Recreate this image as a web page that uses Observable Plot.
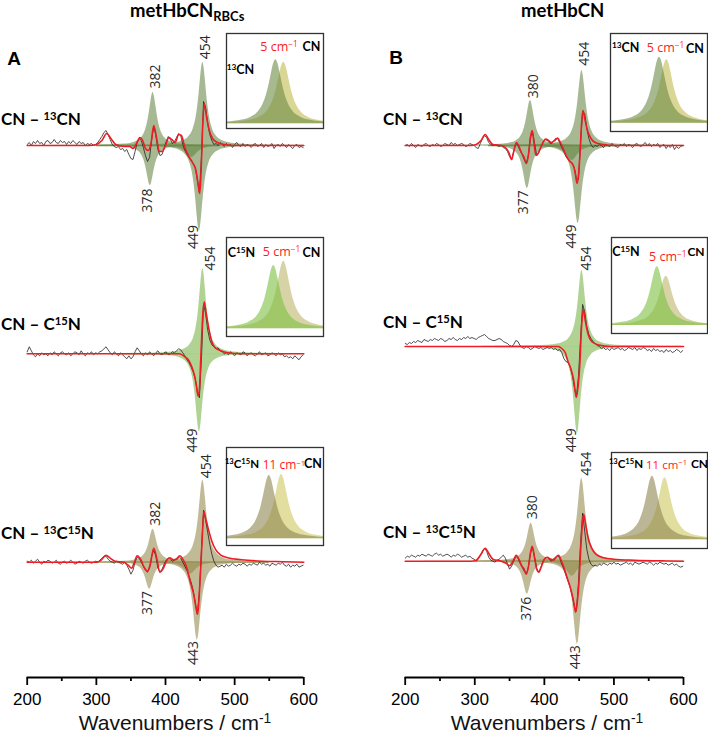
<!DOCTYPE html>
<html><head><meta charset="utf-8">
<script src="https://cdn.jsdelivr.net/npm/d3@7"></script>
<script src="https://cdn.jsdelivr.net/npm/@observablehq/plot@0.6"></script>
<style>
html,body{margin:0;padding:0;background:#fff;}
#fig{position:relative;width:708px;height:734px;overflow:hidden;background:#fff;}
.pl{position:absolute;top:0;}
.lbl{position:absolute;white-space:nowrap;line-height:1;}
.sup{font-size:0.66em;position:relative;top:-0.48em;}
.sub{font-size:0.7em;position:relative;top:0.32em;}
</style></head><body><div id="fig"></div><script>
// ---------------- DATA ----------------
const panels = ["A", "B"];
const panelTitles = [[["metHbCN",""],["RBCs","sub"]], [["metHbCN",""]]];
const rowLabels = [
  [["CN – ",""],["13","sup"],["CN",""]],
  [["CN – C",""],["15","sup"],["N",""]],
  [["CN – ",""],["13","sup"],["C",""],["15","sup"],["N",""]]
];
const isoLabels = [
  [["13","sup"],["CN",""]],
  [["C",""],["15","sup"],["N",""]],
  [["13","sup"],["C",""],["15","sup"],["N",""]]
];
const shiftValues = ["5", "5", "11"];
const xTicks = [200, 300, 400, 500, 600];
const xMinorTicks = [250, 350, 450, 550];
const xDomain = [200, 600];

// vertical offset of each stacked difference spectrum (a.u.)
const traceOffset = { A: [5.32, 3.237, 1.153], B: [5.32, 3.31, 1.163] };

// fitted bands: [center cm-1, amplitude a.u., half width cm-1]
const bandsA = [
  [[382,0.53,7],[378,-0.40,7],[454,0.83,7],[449,-0.85,7],[438,-0.12,10]],
  [[454,0.85,6.5],[449,-0.78,6.5]],
  [[382,0.33,7],[377,-0.27,7],[454,0.82,7],[446,-0.78,7],[436,-0.12,10]]
];
const bandsB = [
  [[380,0.45,7],[375.5,-0.43,7],[454,0.75,7],[448.5,-0.78,7],[440,-0.15,10]],
  [[454,0.76,6.5],[447.5,-0.87,6.5]],
  [[381,0.38,7],[375.5,-0.33,7],[453.7,0.83,7],[447.5,-0.83,7],[440,-0.15,10]]
];
// Lorentzian band profile, tabulated: [distance in half widths, relative height]
const bandProfile = [[0,1],[0.25,0.941],[0.5,0.8],[0.75,0.64],[1,0.5],[1.5,0.308],[2,0.2],[3,0.1],[4,0.0588],[6,0.027],[9,0.0122],[14,0.0051],[22,0.0021]];
// zero-line segment under the band region of each trace
const baseSpanA = [[300,480],[330,560],[300,550]];
const baseSpanB = [[320,490],[330,560],[300,560]];

// experimental difference traces (hundredths a.u.), segments [start cm-1, values every 3 cm-1]
const blackStep = 3;
const blackA = [
  [[200,[1,3,0,4,2,5,2,3,0,4,5,2,3,6,3,2,5,3,4,1,4,2,5,3,1,4,2,3,0,2,1,2,0]],
   [299,[1,3,6,9,13,15,11,6,1,-1,-2,-1,-4,-3,-6,-4,-9,-13,-14,-6,3,7,5,-2,-10,-16,-12,6,19,10,-4,-10,-9,-3,4,9,6,2,4,8,12,10,1,-5,-9,-12,-15,-18,-22,-34,-47,-12,44,38,22,11,5,1]],
   [473,[2,0,3,1,-1,2,0,1,-2,1,3,0,-1,2,-1,1,0,-2,1,2,-1,0,2,-2,1,-1,0,2,-3,0,1,-1,2,0,-2,1,-1,-3,0,1,-2,-1,-2]]],
  [[200,[2,7,3,-1,-3,0,-2,1,-1,0,-2,1,-1,2,0,-2,1,2,0,-1,1,-2,0,2,1,-1,3,0,-2,1,0,2,-1]],
   [299,[1,0,2,3,5,7,4,1,-1,2,0,-2,1,-1,-3,-5,-2,-5,-3,2,6,3,0,-2,1,-1,2,0,-2,1,3,0,-1,1,2,-1,0,2,1,3,5,4,1,-2,-6,-9,-13,-18,-25,-38,-44,-5,50,40,24,14,9,7,5,6,3,2,0]],
   [488,[1,-1,2,0,-2,1,0,-1,2,1,-2,0,1,-1,-2,0,2,-1,0,1,-2,-1,1,0,-2,1,-1,0,-3,-2,-4,-3,-5,-2,-4,-6,-3,-1]]],
  [[200,[1,0,2,-1,1,3,0,-2,1,0,2,1,-1,0,2,-1,-2,0,1,-1,0,2,0,-2,-1,1,0,-1,1,2,0,-1,0]],
   [299,[1,0,2,4,6,6,3,1,0,-1,1,0,-1,-2,0,-3,-7,-12,-8,0,5,4,0,-4,-8,-10,-6,6,12,6,-6,-10,-7,-2,2,4,3,1,2,4,6,4,0,-4,-8,-14,-20,-28,-40,-52,-30,12,52,42,30,18,8,1,-3,-5,-4]],
   [482,[-3,-5,-2,-4,-3,-1,-3,-4,-2,-3,-1,-2,-4,-2,-3,-1,-2,-3,0,-2,-1,-3,-2,-4,-1,-2,-3,-1,-2,0,-3,-4,-2,-5,-3,-4,-2,-5,-4,-3]]]
];
const blackB = [
  [[200,[0,1,-1,2,0,-2,1,0,-1,1,2,0,-1,1,0,2,1,-1,0,2,1,0,3,1,2,0,1,2,1,-1,0,2,1]],
   [299,[0,-2,-3,2,7,10,8,3,1,0,1,0,-1,0,-2,-3,-6,-11,-14,-6,2,0,-5,-9,-14,-18,-10,8,14,2,-10,-7,-2,3,6,5,3,2,4,7,7,3,-2,-6,-11,-14,-16,-18,-22,-33,-34,2,34,32,17,7,1,-2,0,-1,1]],
   [482,[0,-2,1,0,-1,2,0,-1,-2,1,0,2,-1,1,0,-2,1,2,0,-1,1,3,0,2,-1,1,0,2,-2,0,1,-3,0,-2,1,-4,-1,-3,-1,0]]],
  [[200,[3,2,4,3,5,4,6,5,4,7,6,5,7,6,8,7,6,8,7,5,6,8,7,9,7,6,8,7,9,8,10,8,9]],
   [299,[8,7,9,10,11,12,10,8,7,6,6,7,8,7,5,4,3,1,0,2,6,5,1,-1,-2,0,-1,-3,-2,0,-1,-2,-1,-3,-2,-1,-2,-1,-3,-2,-4,-3,-6,-12,-15,-16,-20,-28,-40,-50,-30,8,42,35,20,12,8,5,3,1]],
   [479,[0,-2,-1,-3,-2,-4,-1,-3,-2,-1,-3,-2,-4,-3,-1,-2,-3,-1,-4,-2,-3,-1,-2,-4,-3,-5,-2,-4,-3,-5,-4,-6,-3,-5,-4,-6,-5,-3,-4,-6,-4]]],
  [[200,[3,5,4,6,5,4,6,5,7,6,5,7,6,5,7,8,6,7,5,6,7,6,4,6,5,7,6,4,5,6,4,5,3]],
   [299,[2,0,2,6,10,13,10,4,1,0,-1,1,2,4,6,3,-3,-8,-5,0,5,3,-2,-6,-10,-13,-6,8,14,4,-7,-11,-6,0,3,4,2,0,2,4,6,3,-3,-8,-14,-20,-26,-34,-45,-50,-22,18,48,30,12,2,-3,-5,-4]],
   [476,[-5,-3,-4,-2,-3,-4,-2,-3,-1,-3,-2,-4,-3,-2,-1,-3,-2,-4,-1,-2,-3,-2,-1,-2,-3,-1,-2,-4,-2,-3,-1,-2,-3,-2,-4,-3,-2,-4,-3,-5,-6,-5]]]
];

// fitted sum curves: [cm-1, a.u.]
const redA = [
  [[200,0],[290,0],[300,0.01],[308,0.05],[315,0.12],[321,0.07],[328,0.01],[340,-0.01],[348,-0.01],[353,-0.03],[358,0.02],[363,0.08],[367,0.05],[371,-0.03],[375,-0.05],[379,0.02],[383,0.20],[387,0.08],[391,-0.06],[395,-0.06],[400,0.0],[405,0.08],[409,0.06],[414,0.03],[419,0.11],[423,0.10],[428,-0.02],[433,-0.10],[439,-0.17],[444,-0.25],[447,-0.38],[449.5,-0.48],[451.5,-0.25],[453.5,0.15],[456,0.42],[459,0.30],[463,0.16],[468,0.07],[475,0.03],[485,0.01],[500,0],[600,0]],
  [[200,0],[420,0],[428,-0.03],[433,-0.06],[438,-0.13],[442,-0.22],[445,-0.33],[447,-0.42],[449,-0.36],[451,-0.05],[454,0.40],[456,0.52],[459,0.40],[463,0.24],[467,0.12],[472,0.06],[480,0.03],[490,0.01],[510,0],[600,0]],
  [[200,0],[300,0],[307,0.02],[314,0.07],[320,0.04],[327,0.01],[340,0],[346,-0.03],[351,-0.06],[355,0.0],[359,0.065],[364,0.03],[369,-0.05],[374,-0.09],[378,-0.02],[383,0.14],[387,0.05],[392,-0.10],[397,-0.06],[402,0.02],[406,0.045],[411,0.025],[416,0.03],[421,0.065],[425,0.03],[430,-0.04],[436,-0.20],[441,-0.33],[444,-0.45],[446.5,-0.52],[449,-0.30],[451,-0.05],[453.5,0.30],[455.5,0.51],[458,0.44],[462,0.33],[467,0.21],[473,0.12],[480,0.07],[490,0.045],[510,0.025],[540,0.01],[570,0.005],[600,0]]
];
const redB = [
  [[200,0],[295,0],[302,0.01],[309,0.05],[315,0.11],[320,0.06],[326,0.01],[338,0],[344,-0.02],[349,-0.07],[353,-0.14],[356,-0.06],[360,0.03],[363,0.0],[367,-0.07],[371,-0.12],[374,-0.18],[377,-0.10],[380,0.08],[382.5,0.15],[385,0.03],[388,-0.10],[391,-0.08],[396,0.0],[402,0.065],[406,0.05],[410,0.03],[415,0.05],[419,0.075],[423,0.03],[427,-0.03],[432,-0.11],[437,-0.16],[441,-0.19],[444,-0.26],[447,-0.38],[449,-0.30],[451.5,-0.05],[453.5,0.22],[455.5,0.35],[458,0.27],[462,0.15],[467,0.07],[473,0.03],[485,0.01],[500,0],[600,0]],
  [[200,0],[420,0],[425,-0.02],[430,-0.06],[434,-0.15],[438,-0.22],[442,-0.33],[446,-0.51],[448.5,-0.40],[451,-0.18],[453.5,0.20],[456,0.37],[459,0.25],[463,0.12],[468,0.05],[478,0.015],[495,0],[600,0]],
  [[200,0],[295,0],[302,0.01],[309,0.07],[315,0.13],[320,0.08],[326,0.02],[338,0],[345,-0.02],[350,-0.045],[355,0.0],[359.5,0.06],[364,0.01],[367,-0.04],[371,-0.08],[374,-0.13],[377,-0.06],[380,0.08],[382.5,0.15],[386,0.03],[389,-0.08],[392,-0.11],[396,-0.05],[400,0.02],[404,0.04],[409,0.02],[413,0.01],[417,0.04],[420.5,0.06],[424,0.01],[428,-0.06],[433,-0.17],[438,-0.28],[442,-0.40],[445,-0.51],[447.5,-0.40],[450,-0.18],[452.5,0.15],[455,0.40],[456.5,0.47],[459,0.38],[463,0.23],[468,0.13],[474,0.07],[485,0.035],[500,0.02],[530,0.01],[570,0.003],[600,0]]
];

// peak labels: [row, text, cm-1, a.u. relative to trace zero]
const peakLabelsA = [
  [0,"382",385.9,0.69],[0,"454",457.3,0.983],[0,"378",373.5,-0.55],[0,"449",440.9,-0.915],
  [1,"454",465,0.953],[1,"449",438.5,-0.867],
  [2,"382",385.5,0.484],[2,"454",459.2,0.959],[2,"377",373.5,-0.408],[2,"443",440,-0.908]
];
const peakLabelsB = [
  [0,"380",384.2,0.592],[0,"454",458,0.917],[0,"377",370.7,-0.567],[0,"449",438.8,-0.91],
  [1,"454",460.9,0.88],[1,"449",438.8,-0.937],
  [2,"380",383.2,0.54],[2,"454",460.9,0.974],[2,"376",374.6,-0.476],[2,"443",444.1,-0.96]
];

// insets: isotope band and CN band [center (cm-1 rel.), apex level], baseline level
const insetDomain = [-36, 25];
const insetHalfWidth = 5.3;
const insetPeaksA = [[[-5,0.723],[0,0.698]], [[-6.3,0.717],[0,0.761]], [[-9.1,0.714],[-1.4,0.724]]];
const insetBaseA = [0.049, 0.078, 0.068];
const insetPeaksB = [[[-5.2,0.758],[-0.6,0.731]], [[-6.9,0.695],[-1.2,0.597]], [[-10,0.753],[-2,0.736]]];
const insetBaseB = [0.085, 0.083, 0.091];

// ---------------- LAYOUT / STYLE ----------------
const layout = {
  A: { left: 0, margins: [26.7, 50.7], letter: [14, 58], title: [130, 10], axisTitle: [175, 722],
       rowLabel: [[1,118],[1,323],[1,532]],
       insetBox: [[226,33,97,95],[226,237,97,99],[226,447,97,98]],
       insetText: [[[240.5,70],[279,47],[311.5,47]], [[241.5,253],[281.5,252],[311.5,253]], [[242,464],[284,465.3],[313,464]]],
       insetSize: [["12.5px","12.5px","12.5px"],["12.5px","12.5px","12.5px"],["11.5px","12px","12.5px"]] },
  B: { left: 354, margins: [50.7, 25], letter: [396, 57], title: [521, 10], axisTitle: [547, 722],
       rowLabel: [[383,118],[383,321],[383,531]],
       insetBox: [[610,33,97,98],[611,237,96,96],[611,452,96,96]],
       insetText: [[[625.7,48],[665.5,48],[695,49]], [[626,252],[667.8,257],[696,252]], [[626,463.5],[666.5,464.5],[699.5,464]]],
       insetSize: [["12.5px","12.5px","12.5px"],["12.5px","12.5px","12px"],["11.5px","11.5px","12px"]] }
};
const bandColor = ["#5f7f3a", "#6fae3c", "#8c8440"];
const baseLineColor = ["#6d8c45", "#a9cf8a", "#9a9255"];
const insetColors = [["#6d8a45","#bfbb50"], ["#7cbf3f","#bdb56a"], ["#8d8650","#cfc860"]];

const fig = document.getElementById("fig");
const fullProfile = [...bandProfile.slice(1).map(([u,f]) => [-u,f]).reverse(), ...bandProfile];

function addLabel(parts, x, y, anchor, css) {
  const d = document.createElement("div");
  d.className = "lbl";
  d.style.left = x + "px"; d.style.top = y + "px";
  d.style.transform = anchor === "start" ? "translate(0,-50%)" : "translate(-50%,-50%)";
  Object.assign(d.style, css);
  for (const [t, k] of parts) {
    const s = document.createElement("span");
    s.textContent = t; if (k) s.className = k;
    d.appendChild(s);
  }
  fig.appendChild(d);
}

panels.forEach((P, pi) => {
  const L = layout[P];
  const offs = traceOffset[P];
  const bands = P === "A" ? bandsA : bandsB;
  const blacks = P === "A" ? blackA : blackB;
  const reds = P === "A" ? redA : redB;
  const labs = P === "A" ? peakLabelsA : peakLabelsB;
  const spans = P === "A" ? baseSpanA : baseSpanB;

  const marks = [];
  bands.forEach((rowBands, r) => {
    const pts = [];
    rowBands.forEach(([c, a, w], k) => {
      fullProfile.forEach(([u, f]) => pts.push({k, x: c + u * w, b: offs[r], y: offs[r] + a * f}));
    });
    marks.push(Plot.areaY(pts, {x: "x", y1: "b", y2: "y", z: "k", fill: bandColor[r], fillOpacity: 0.55, curve: "monotone-x", clip: true}));
  });
  marks.push(Plot.ruleY(spans.map((s, r) => ({y: offs[r], x1: s[0], x2: s[1], r})),
    {y: "y", x1: "x1", x2: "x2", stroke: d => baseLineColor[d.r], strokeWidth: 1.3}));
  const bpts = [];
  blacks.forEach((segs, r) => segs.forEach(([start, vals]) =>
    vals.forEach((v, i) => bpts.push({r, x: start + i * blackStep, y: offs[r] + v / 100}))));
  marks.push(Plot.line(bpts, {x: "x", y: "y", z: "r", stroke: "#222", strokeWidth: 0.8}));
  const rpts = [];
  reds.forEach((arr, r) => arr.forEach(([x, v]) => rpts.push({r, x, y: offs[r] + v})));
  marks.push(Plot.line(rpts, {x: "x", y: "y", z: "r", stroke: "#ee1c24", strokeWidth: 1.6, curve: "monotone-x"}));
  marks.push(Plot.text(labs.map(([r, t, x, v]) => ({t, x, y: offs[r] + v})),
    {x: "x", y: "y", text: "t", rotate: -90, fontSize: 14, fill: "#2a2a2a", fontFamily: "Open Sans, sans-serif"}));
  marks.push(Plot.ruleY([0], {stroke: "#000", strokeWidth: 1.8}));
  marks.push(Plot.axisX({ticks: xTicks, tickSize: 8, tickPadding: 7, fontSize: 17, label: null, strokeWidth: 1.8, tickFormat: d => String(d)}));
  marks.push(Plot.axisX({ticks: xMinorTicks, tickSize: 4, label: null, strokeWidth: 1.8, tickFormat: () => ""}));

  const chart = Plot.plot({
    width: 354, height: 734,
    marginLeft: L.margins[0], marginRight: L.margins[1], marginTop: 0, marginBottom: 57,
    x: {domain: xDomain},
    y: {domain: [0, 6.77], axis: null},
    style: {fontFamily: "Liberation Sans, Arial, sans-serif", background: "transparent", overflow: "visible", color: "#000"},
    marks
  });
  const holder = document.createElement("div");
  holder.className = "pl"; holder.style.left = L.left + "px";
  holder.appendChild(chart);
  fig.appendChild(holder);

  // insets
  const ipeaks = P === "A" ? insetPeaksA : insetPeaksB;
  const ibase = P === "A" ? insetBaseA : insetBaseB;
  L.insetBox.forEach(([bx, by, bw, bh], r) => {
    const imarks = [];
    // CN band (right) first, then isotope band
    [1, 0].forEach(j => {
      const [c, top] = ipeaks[r][j];
      const pts = fullProfile.map(([u, f]) => ({x: c + u * insetHalfWidth, b: ibase[r], y: ibase[r] + (top - ibase[r]) * f}));
      imarks.push(Plot.areaY(pts, {x: "x", y1: "b", y2: "y", fill: insetColors[r][j === 0 ? 0 : 1], fillOpacity: 0.6, curve: "monotone-x", clip: true}));
    });
    imarks.push(Plot.frame({stroke: "#333", strokeWidth: 1.3}));
    const ic = Plot.plot({
      width: bw, height: bh, margin: 0,
      x: {domain: insetDomain, axis: null}, y: {domain: [0, 1], axis: null},
      style: {background: "#fff", overflow: "visible"},
      marks: imarks
    });
    const h = document.createElement("div");
    h.className = "pl"; h.style.left = bx + "px"; h.style.top = by + "px";
    h.appendChild(ic);
    fig.appendChild(h);
    const [isoPos, shiftPos, cnPos] = L.insetText[r];
    const [isoSize, shiftSize, cnSize] = L.insetSize[r];
    const bold = size => ({fontFamily: "Lato, sans-serif", fontWeight: "700", fontSize: size, color: "#000"});
    addLabel(isoLabels[r], isoPos[0], isoPos[1], "middle", bold(isoSize));
    addLabel([["CN",""]], cnPos[0], cnPos[1], "middle", bold(cnSize));
    addLabel([[shiftValues[r] + " cm",""],["−1","sup"]], shiftPos[0], shiftPos[1], "middle",
      {fontFamily: "Open Sans, sans-serif", fontSize: shiftSize, color: "#ff1a1a"});
  });

  // row labels
  rowLabels.forEach((parts, r) => addLabel(parts, L.rowLabel[r][0], L.rowLabel[r][1], "start",
    {fontFamily: "Lato, sans-serif", fontWeight: "700", fontSize: "17px", color: "#000"}));
  // panel letter & title
  addLabel([[P,""]], L.letter[0], L.letter[1], "middle",
    {fontFamily: "Liberation Sans, Arial, sans-serif", fontWeight: "700", fontSize: "19px"});
  addLabel(panelTitles[pi], L.title[0], L.title[1], "start",
    {fontFamily: "Lato, sans-serif", fontWeight: "700", fontSize: "18.5px"});
  addLabel([["Wavenumbers / cm",""],["-1","sup"]], L.axisTitle[0], L.axisTitle[1], "middle",
    {fontFamily: "Liberation Sans, Arial, sans-serif", fontSize: "21px", color: "#111"});
});
</script></body></html>
